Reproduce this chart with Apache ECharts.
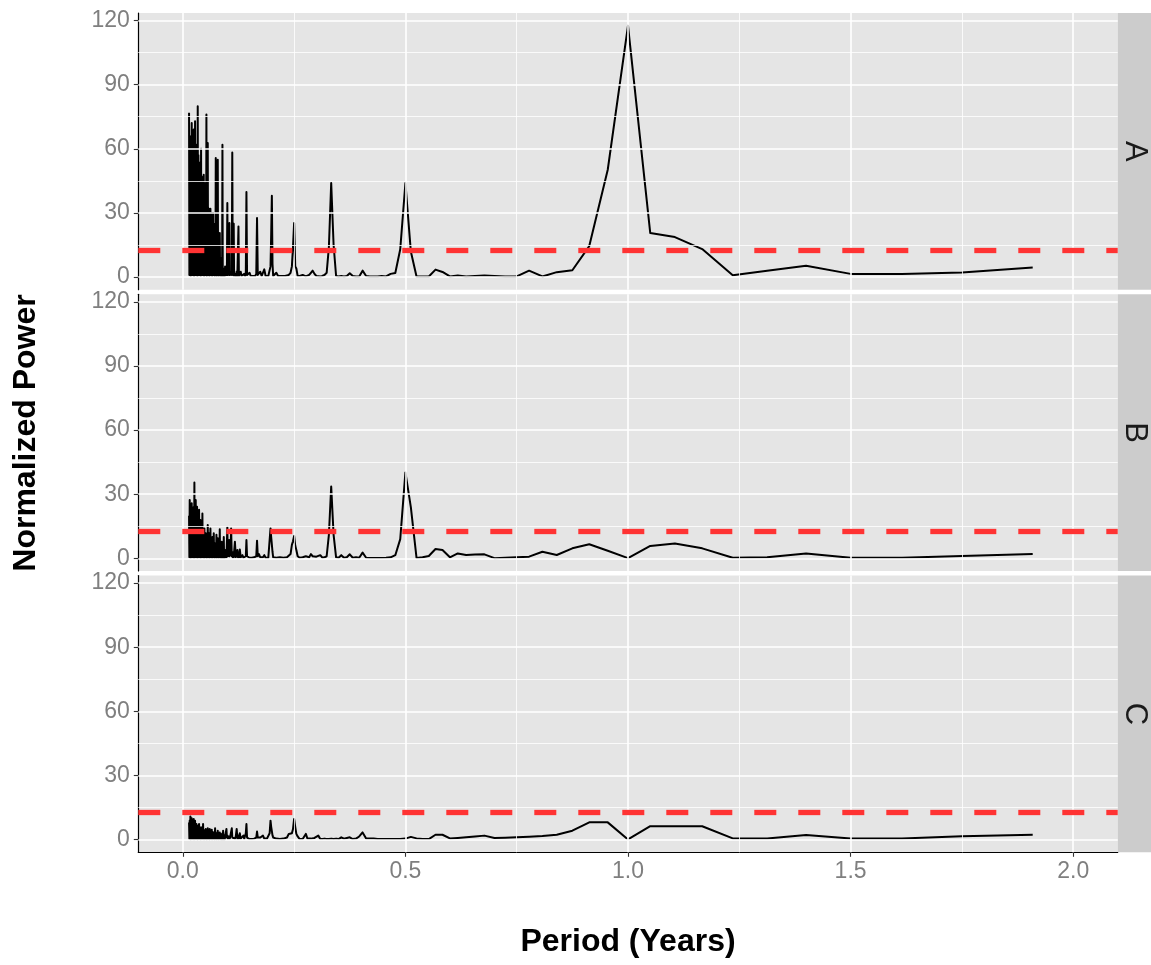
<!DOCTYPE html>
<html>
<head>
<meta charset="utf-8">
<script src="https://cdn.jsdelivr.net/npm/echarts@6/dist/echarts.min.js"></script>
<style>
html,body{margin:0;padding:0;background:#ffffff;}
#chart{width:1151px;height:965px;}
</style>
</head>
<body>
<div id="chart"></div>
<script>
// ---------------- data ----------------
const panelLabels = ['A', 'B', 'C'];
const thresholds = [12.7, 12.7, 12.7];
const xTicks = [0, 0.5, 1, 1.5, 2];
const xMinorTicks = [0.25, 0.75, 1.25, 1.75];
const yTicks = [0, 30, 60, 90, 120];
const yMinorTicks = [15, 45, 75, 105];

// dense short-period region: peak samples and trough samples
const denseHiPeriods = [
  0.0140, 0.0155, 0.0170, 0.0185, 0.0200, 0.0215, 0.0230, 0.0245, 0.0260, 0.0275, 0.0290,
  0.0305, 0.0320, 0.0335, 0.0350, 0.0365, 0.0380, 0.0395, 0.0410, 0.0425, 0.0440, 0.0455,
  0.0470, 0.0485, 0.0500, 0.0515, 0.0530, 0.0545, 0.0560, 0.0575, 0.0590, 0.0605, 0.0620,
  0.0635, 0.0650, 0.0665, 0.0680, 0.0695, 0.0710, 0.0725, 0.0740, 0.0755, 0.0770, 0.0785,
  0.0800, 0.0815, 0.0830, 0.0845, 0.0860, 0.0875, 0.0890, 0.0905, 0.0920, 0.0935, 0.0950
];
const denseLoPeriods = [
  0.01475, 0.01625, 0.01775, 0.01925, 0.02075, 0.02225, 0.02375, 0.02525, 0.02675,
  0.02825, 0.02975, 0.03125, 0.03275, 0.03425, 0.03575, 0.03725, 0.03875, 0.04025,
  0.04175, 0.04325, 0.04475, 0.04625, 0.04775, 0.04925, 0.05075, 0.05225, 0.05375,
  0.05525, 0.05675, 0.05825, 0.05975, 0.06125, 0.06275, 0.06425, 0.06575, 0.06725,
  0.06875, 0.07025, 0.07175, 0.07325, 0.07475, 0.07625, 0.07775, 0.07925, 0.08075,
  0.08225, 0.08375, 0.08525, 0.08675, 0.08825, 0.08975, 0.09125, 0.09275, 0.09425
];
const denseHiA = [
  76.8, 66, 58, 63.5, 72, 61, 57, 69, 60, 72.9, 58,
  55, 62, 79.9, 57, 50, 53.5, 49, 60, 47, 46, 44,
  47.9, 44, 42, 35, 76, 33, 62.7, 31, 32, 29, 32,
  28, 30, 27, 30, 25, 22, 20, 55.7, 20, 18, 54.9,
  14, 12, 20.6, 9, 7, 8, 61.9, 4, 3, 4, 5
];
const denseLoA = [
  1, 2, 0.5, 3, 1, 2, 1, 0.5, 2,
  1, 3, 1, 0.5, 2, 1, 1, 2, 0.5,
  1, 3, 1, 2, 0.5, 1, 2, 1, 0.5,
  1, 2, 1, 0.5, 1, 2, 1, 0.5, 1,
  1, 2, 0.5, 1, 1, 0.5, 2, 1, 0.5,
  1, 1, 0.5, 1, 0.5, 1, 0.5, 1, 0.5
];
const denseHiB = [
  20, 27.3, 18, 22, 25.8, 17, 20, 24, 35.5, 19, 27.3,
  16, 24.2, 18, 15, 22.7, 14, 18, 13, 15, 21, 12,
  10, 14, 9, 11.7, 8, 10, 15.6, 7, 11.7, 6, 14,
  7, 5, 10, 6, 11.7, 5, 7, 4, 11, 5, 9.4,
  4, 6, 13.6, 3, 5, 7.8, 3, 4, 10, 2, 3.9
];
const denseLoB = [
  0.5, 1, 0.3, 1.5, 0.5, 1, 0.5, 0.3, 1,
  0.5, 1.5, 0.5, 0.3, 1, 0.5, 0.5, 1, 0.3,
  0.5, 1, 0.5, 1, 0.3, 0.5, 1, 0.5, 0.3,
  0.5, 1, 0.5, 0.3, 0.5, 1, 0.5, 0.3, 0.5,
  0.5, 1, 0.3, 0.5, 0.5, 0.3, 1, 0.5, 0.3,
  0.5, 0.5, 0.3, 0.5, 0.3, 0.5, 0.3, 0.5, 0.3
];
const denseHiC = [
  8, 9, 10.9, 8, 10, 7.5, 8, 9.7, 7, 8.9, 6.5,
  7.3, 6, 6.5, 5.5, 7.3, 5, 5.5, 5.8, 4.5, 5, 7.3,
  4.5, 4, 4.5, 5, 3.5, 4, 5.3, 3.5, 4, 5, 3,
  3.5, 4.7, 3, 3.5, 2.5, 3.5, 5.3, 2.5, 3, 2.5, 4.2,
  2, 2.5, 3.4, 2, 2.5, 2, 3, 4.2, 1.5, 2, 1.5
];
const denseLoC = [
  0.3, 0.5, 0.2, 0.6, 0.3, 0.5, 0.3, 0.2, 0.5,
  0.3, 0.6, 0.3, 0.2, 0.5, 0.3, 0.3, 0.5, 0.2,
  0.3, 0.6, 0.3, 0.5, 0.2, 0.3, 0.5, 0.3, 0.2,
  0.3, 0.5, 0.3, 0.2, 0.3, 0.5, 0.3, 0.2, 0.3,
  0.3, 0.5, 0.2, 0.3, 0.3, 0.2, 0.5, 0.3, 0.2,
  0.3, 0.3, 0.2, 0.3, 0.2, 0.3, 0.2, 0.3, 0.2
];

// middle region
const midPeriods = [
  0.0965, 0.0980, 0.0990, 0.1000, 0.1010, 0.1025, 0.1040, 0.1047, 0.1055, 0.1070, 0.1085, 0.1100, 0.1111, 0.1122, 0.1135,
  0.1143, 0.1152, 0.1170, 0.1190, 0.1210, 0.1225, 0.1240, 0.1250, 0.1260, 0.1280, 0.1300, 0.1320, 0.1340, 0.1360, 0.1380,
  0.1400, 0.1415, 0.1429, 0.1443, 0.1460, 0.1480, 0.1500, 0.1525, 0.1550, 0.1575, 0.1600, 0.1625, 0.1650, 0.1667, 0.1684,
  0.1710, 0.1740, 0.1770, 0.1800, 0.1830, 0.1860, 0.1890, 0.1920, 0.1950, 0.1970, 0.1985, 0.2000, 0.2015, 0.2030, 0.2060,
  0.2100, 0.2140, 0.2180, 0.2220, 0.2260, 0.2300, 0.2340, 0.2380, 0.2420, 0.2450, 0.2475, 0.2500, 0.2525, 0.2550, 0.2580
];
const midA = [
  1, 2, 1, 34.6, 1, 2, 1, 25.3, 1, 2, 1, 2, 58.3, 1, 1.5,
  25, 0.5, 1.5, 0.5, 2.6, 0.5, 1, 23.7, 0.5, 1, 2.5, 0.5, 1, 0.5, 1.5,
  0.5, 1.5, 39.8, 1, 0.5, 1, 2, 0.5, 1, 0.5, 1, 0.5, 1.5, 27.6, 1,
  0.5, 2.5, 0.5, 1, 3.6, 0.5, 1, 0.5, 1, 5, 20, 38, 6, 0.5, 1,
  2, 0.5, 0.5, 0.5, 0.3, 0.5, 0.5, 1, 2, 5, 14, 25.3, 5, 4, 0.5
];
const midB = [
  3.9, 0.5, 1, 14.5, 1, 0.5, 8.6, 1, 0.5, 2, 14, 1, 2, 0.5, 3,
  0.5, 1, 7.8, 0.5, 1, 3.9, 0.5, 1.5, 0.5, 4.2, 0.5, 1, 1.5, 0.3, 0.5,
  0.5, 1, 8.6, 1, 0.3, 1.5, 0.3, 0.5, 0.3, 0.5, 0.5, 0.3, 1, 8.3, 1,
  2, 0.5, 0.3, 0.5, 1.5, 0.3, 0.5, 0.3, 1, 14, 10, 9.4, 3, 0.5, 1,
  0.3, 0.3, 0.5, 0.3, 0.3, 0.3, 0.5, 0.5, 2, 6.3, 8, 10.5, 6, 3.9, 1
];
const midC = [
  1, 5, 1, 2, 0.5, 1.5, 0.5, 1.5, 0.5, 1, 1, 5.3, 1, 0.5, 1.8,
  0.5, 1, 0.5, 1.5, 5, 0.5, 1, 2, 0.5, 3, 0.5, 0.5, 1, 1.9, 0.5,
  0.5, 3, 7.3, 1, 0.3, 1, 0.3, 0.5, 0.3, 0.5, 0.5, 0.3, 1, 3.8, 1,
  0.5, 1, 0.5, 1.9, 0.5, 0.5, 0.5, 1, 3, 8.9, 6, 6.9, 2, 1, 1.1,
  0.5, 0.3, 0.3, 0.3, 0.5, 1, 1, 2.7, 2, 3, 5, 9.7, 6, 2.7, 1.5
];

// long-period region
const tailPeriods = [
  0.2625, 0.2658, 0.2692, 0.2727, 0.2763, 0.2800, 0.2838, 0.2877, 0.2917, 0.2958,
  0.3000, 0.3043, 0.3088, 0.3134, 0.3182, 0.3231, 0.3281, 0.3333, 0.3387, 0.3443,
  0.3500, 0.3559, 0.3621, 0.3684, 0.3750, 0.3818, 0.3889, 0.3962, 0.4038, 0.4118,
  0.4200, 0.4286, 0.4375, 0.4468, 0.4565, 0.4667, 0.4773, 0.4884, 0.5000, 0.5122,
  0.5250, 0.5385, 0.5526, 0.5676, 0.5833, 0.6000, 0.6176, 0.6364, 0.6563, 0.6774,
  0.7000, 0.7241, 0.7500, 0.7778, 0.8077, 0.8400, 0.8750, 0.9130, 0.9545, 1.0000,
  1.0500, 1.1053, 1.1667, 1.2353, 1.3125, 1.4000, 1.5000, 1.6154, 1.7500, 1.9091
];
const tailA = [
  0.5, 0.3, 1, 0.5, 0.3, 0.5, 1, 2, 3, 1.5,
  0.5, 0.5, 0.3, 0.5, 1, 2, 14, 44, 15, 0.5,
  0.3, 0.5, 0.3, 0.5, 1.8, 0.5, 0.3, 0.3, 3, 0.5,
  0.3, 0.3, 0.3, 0.5, 0.3, 1.5, 1.9, 13, 44, 12,
  0.3, 0.3, 0.3, 3.5, 2.4, 0.3, 0.7, 0.3, 0.5, 0.7,
  0.5, 0.3, 0.3, 3.0, 0.3, 2.3, 3.2, 14.5, 50.2, 117.6,
  20.6, 18.7, 13.1, 0.9, 3, 5.3, 1.5, 1.5, 2.2, 4.5
];
const tailB = [
  0.3, 0.3, 0.5, 0.3, 1, 1.5, 0.5, 2, 1, 0.5,
  0.8, 0.3, 1.5, 0.3, 0.5, 1, 11, 33.6, 11, 0.5,
  0.3, 1.5, 0.3, 0.5, 1.9, 0.3, 0.5, 0.3, 2.7, 0.3,
  0.2, 0.2, 0.2, 0.2, 0.3, 0.5, 1.5, 9, 40.2, 24,
  0.2, 0.5, 1.1, 4.4, 3.9, 0.5, 2.3, 1.6, 1.8, 1.9,
  0.1, 0.3, 0.5, 0.8, 3.1, 1.6, 4.7, 6.6, 3.6, 0.1,
  5.8, 7.0, 4.7, 0.3, 0.5, 2.3, 0.3, 0.3, 1.1, 2.0
];
const tailC = [
  0.3, 0.5, 0.3, 1, 2.7, 0.5, 0.3, 0.5, 0.3, 0.8,
  1.2, 1.9, 0.3, 0.3, 0.5, 0.3, 0.3, 0.5, 0.3, 0.5,
  0.3, 1.1, 0.5, 0.8, 1.1, 0.3, 0.5, 1.5, 3.4, 0.6,
  0.6, 0.6, 0.3, 0.3, 0.3, 0.3, 0.3, 0.3, 0.5, 1.3,
  0.6, 0.3, 0.3, 2.3, 2.3, 0.6, 0.8, 1.1, 1.5, 1.9,
  0.8, 0.9, 1.1, 1.4, 1.7, 2.3, 4.2, 8.1, 8.1, 0.1,
  6.3, 6.3, 6.3, 0.6, 0.6, 2.2, 0.6, 0.6, 1.6, 2.3
];

// ---------------- build ----------------
const panelValues = [
  { hi: denseHiA, lo: denseLoA, mid: midA, tail: tailA },
  { hi: denseHiB, lo: denseLoB, mid: midB, tail: tailB },
  { hi: denseHiC, lo: denseLoC, mid: midC, tail: tailC }
];
function buildPoints(v) {
  const pts = [];
  for (let j = 0; j < denseHiPeriods.length; j++) {
    pts.push([denseHiPeriods[j], v.hi[j]]);
    if (j < denseLoPeriods.length) pts.push([denseLoPeriods[j], v.lo[j]]);
  }
  midPeriods.forEach((p, i) => pts.push([p, v.mid[i]]));
  tailPeriods.forEach((p, i) => pts.push([p, v.tail[i]]));
  return pts;
}

const PLOT_LEFT = 138.3;
const PLOT_W = 979.4;
const PANEL_H = 276.7;
const PANEL_TOPS = [13, 294.3, 575.6];
const STRIP_X = 1117.7;
const FONT = 'Liberation Sans, Arial, sans-serif';
const TICK_COLOR = '#7F7F7F';

const grids = [], xAxes = [], yAxes = [], series = [], graphics = [];

PANEL_TOPS.forEach((top, i) => {
  const isBottom = i === PANEL_TOPS.length - 1;
  grids.push({
    left: PLOT_LEFT, top: top, width: PLOT_W, height: PANEL_H,
    show: true, backgroundColor: '#E5E5E5', borderWidth: 0,
    containLabel: false, outerBoundsMode: 'none'
  });
  xAxes.push({
    gridIndex: i, type: 'value', min: -0.1, max: 2.1,
    axisLine: { show: isBottom, onZero: false, lineStyle: { color: '#000000', width: 1.2 } },
    axisTick: { show: isBottom, customValues: xTicks, length: 4.5, lineStyle: { color: '#333333', width: 1.1 } },
    axisLabel: { show: isBottom, customValues: xTicks, formatter: v => Number(v).toFixed(1),
      fontSize: 23, color: TICK_COLOR, margin: 8, fontFamily: FONT },
    splitLine: { show: false }, minorSplitLine: { show: false }
  });
  yAxes.push({
    gridIndex: i, type: 'value', min: -5.9, max: 123.5,
    axisLine: { show: true, onZero: false, lineStyle: { color: '#000000', width: 1.2 } },
    axisTick: { show: true, customValues: yTicks, length: 4.5, lineStyle: { color: '#333333', width: 1.1 } },
    axisLabel: { show: true, customValues: yTicks, fontSize: 23, color: TICK_COLOR, margin: 8.5, fontFamily: FONT },
    splitLine: { show: false }, minorSplitLine: { show: false }
  });

  const gridLines = []
    .concat(xMinorTicks.map(v => ({ xAxis: v, lineStyle: { color: '#FFFFFF', width: 0.8, type: 'solid' } })))
    .concat(yMinorTicks.map(v => ({ yAxis: v, lineStyle: { color: '#FFFFFF', width: 0.8, type: 'solid' } })))
    .concat(xTicks.map(v => ({ xAxis: v, lineStyle: { color: '#FFFFFF', width: 1.6, type: 'solid' } })))
    .concat(yTicks.map(v => ({ yAxis: v, lineStyle: { color: '#FFFFFF', width: 1.6, type: 'solid' } })));

  series.push({
    type: 'line', xAxisIndex: i, yAxisIndex: i, data: [], z: 1, silent: true, animation: false,
    markLine: { silent: true, animation: false, symbol: ['none', 'none'], label: { show: false },
      emphasis: { disabled: true }, data: gridLines }
  });
  series.push({
    type: 'line', xAxisIndex: i, yAxisIndex: i, z: 3, silent: true, animation: false,
    showSymbol: false, symbol: 'none', sampling: null,
    lineStyle: { color: '#000000', width: 2, join: 'round', cap: 'butt' },
    data: buildPoints(panelValues[i])
  });
  series.push({
    type: 'line', xAxisIndex: i, yAxisIndex: i, data: [], z: 5, silent: true, animation: false,
    markLine: { silent: true, animation: false, symbol: ['none', 'none'], label: { show: false },
      emphasis: { disabled: true },
      data: [{ yAxis: thresholds[i], lineStyle: { color: '#FF3333', width: 5.3, type: [22, 22], cap: 'butt', opacity: 1 } }] }
  });

  graphics.push({
    type: 'rect', silent: true,
    shape: { x: STRIP_X, y: top, width: 1151 - STRIP_X + 2, height: PANEL_H },
    style: { fill: '#CCCCCC' }
  });
  graphics.push({
    type: 'text', silent: true, x: 1134.3, y: top + PANEL_H / 2, rotation: -Math.PI / 2,
    style: { text: panelLabels[i], fontSize: 31, fontFamily: FONT, fill: '#1A1A1A',
      align: 'center', verticalAlign: 'middle' }
  });
});

graphics.push({
  type: 'text', silent: true, x: 628, y: 942.5,
  style: { text: 'Period (Years)', fontSize: 32, fontWeight: 'bold', fontFamily: FONT, fill: '#000000',
    align: 'center', verticalAlign: 'middle' }
});
graphics.push({
  type: 'text', silent: true, x: 26, y: 433, rotation: Math.PI / 2,
  style: { text: 'Normalized Power', fontSize: 32, fontWeight: 'bold', fontFamily: FONT, fill: '#000000',
    align: 'center', verticalAlign: 'middle' }
});

const chart = echarts.init(document.getElementById('chart'), null, { renderer: 'canvas', width: 1151, height: 965 });
chart.setOption({
  backgroundColor: '#FFFFFF',
  animation: false,
  grid: grids,
  xAxis: xAxes,
  yAxis: yAxes,
  series: series,
  graphic: graphics
});
</script>
</body>
</html>
